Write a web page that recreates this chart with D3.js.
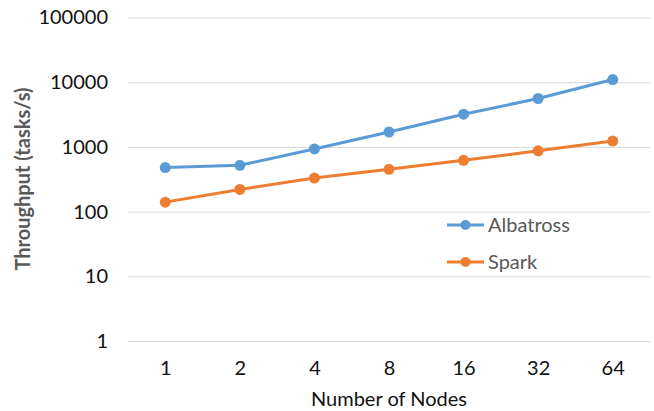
<!DOCTYPE html>
<html>
<head>
<meta charset="utf-8">
<script src="https://cdn.jsdelivr.net/npm/d3@7"></script>
<style>
  html, body { margin: 0; padding: 0; background: #fff; }
  svg { display: block; font-family: Lato, "Open Sans", sans-serif; }
</style>
</head>
<body>
<svg id="chart" width="654" height="411"></svg>
<script>
// Number of nodes in the cluster
const nodes = ["1", "2", "4", "8", "16", "32", "64"];
// Throughput in tasks per second
const albatross = [480, 520, 930, 1700, 3200, 5600, 11000];
const spark = [140, 220, 330, 450, 620, 870, 1230];
// Log-scale ticks
const yTicks = [1, 10, 100, 1000, 10000, 100000];

const series = [
  { name: "Albatross", values: albatross, color: "#5B9BD5" },
  { name: "Spark", values: spark, color: "#ED7D31" }
];

const svg = d3.select("#chart");
const plot = { left: 128, right: 650, top: 17.5, bottom: 341 };

const x = d3.scalePoint()
  .domain(nodes)
  .range([plot.left, plot.right])
  .padding(0.5);

const y = d3.scaleLog()
  .domain([1, 100000])
  .range([plot.bottom, plot.top]);

// Horizontal gridlines and y tick labels
const yAxis = svg.append("g")
  .attr("transform", `translate(${plot.left},0)`)
  .call(d3.axisLeft(y)
    .tickValues(yTicks)
    .tickFormat(d3.format("d"))
    .tickSize(-(plot.right - plot.left))
    .tickPadding(20));
yAxis.select(".domain").remove();
yAxis.selectAll(".tick line").attr("stroke", "#D9D9D9").attr("stroke-width", 1);
yAxis.selectAll(".tick text")
  .attr("fill", "#111")
  .style("font-size", "20px")
  .style("font-family", "Lato, sans-serif");

// Category labels along the bottom
const xAxis = svg.append("g")
  .attr("transform", `translate(0,${plot.bottom})`)
  .call(d3.axisBottom(x).tickSize(0).tickPadding(20));
xAxis.select(".domain").remove();
xAxis.selectAll(".tick text")
  .attr("fill", "#111")
  .style("font-size", "20px")
  .style("font-family", "Lato, sans-serif");

// Axis titles
svg.append("text")
  .attr("x", 389)
  .attr("y", 406)
  .attr("text-anchor", "middle")
  .attr("fill", "#111")
  .style("font-size", "20px")
  .text("Number of Nodes");

svg.append("text")
  .attr("transform", "translate(30,179) rotate(-90)")
  .attr("text-anchor", "middle")
  .attr("fill", "#595959")
  .style("font-size", "20px")
  .style("font-weight", "bold")
  .text("Throughput (tasks/s)");

// Lines with markers
const line = d3.line()
  .x((d, i) => x(nodes[i]))
  .y(d => y(d));

series.forEach(s => {
  const g = svg.append("g");
  g.append("path")
    .datum(s.values)
    .attr("fill", "none")
    .attr("stroke", s.color)
    .attr("stroke-width", 3)
    .attr("stroke-linejoin", "round")
    .attr("d", line);
  g.selectAll("circle")
    .data(s.values)
    .join("circle")
    .attr("cx", (d, i) => x(nodes[i]))
    .attr("cy", d => y(d))
    .attr("r", 5.5)
    .attr("fill", s.color);
});

// Legend
const legend = svg.append("g").attr("transform", "translate(447,225)");
series.forEach((s, i) => {
  const row = legend.append("g").attr("transform", `translate(0,${i * 37})`);
  row.append("line")
    .attr("x1", 0).attr("x2", 37)
    .attr("y1", 0).attr("y2", 0)
    .attr("stroke", s.color)
    .attr("stroke-width", 3);
  row.append("circle")
    .attr("cx", 18.5).attr("cy", 0).attr("r", 5)
    .attr("fill", s.color);
  row.append("text")
    .attr("x", 41)
    .attr("y", 0)
    .attr("dy", "0.35em")
    .attr("fill", "#595959")
    .style("font-size", "20px")
    .text(s.name);
});
</script>
</body>
</html>
